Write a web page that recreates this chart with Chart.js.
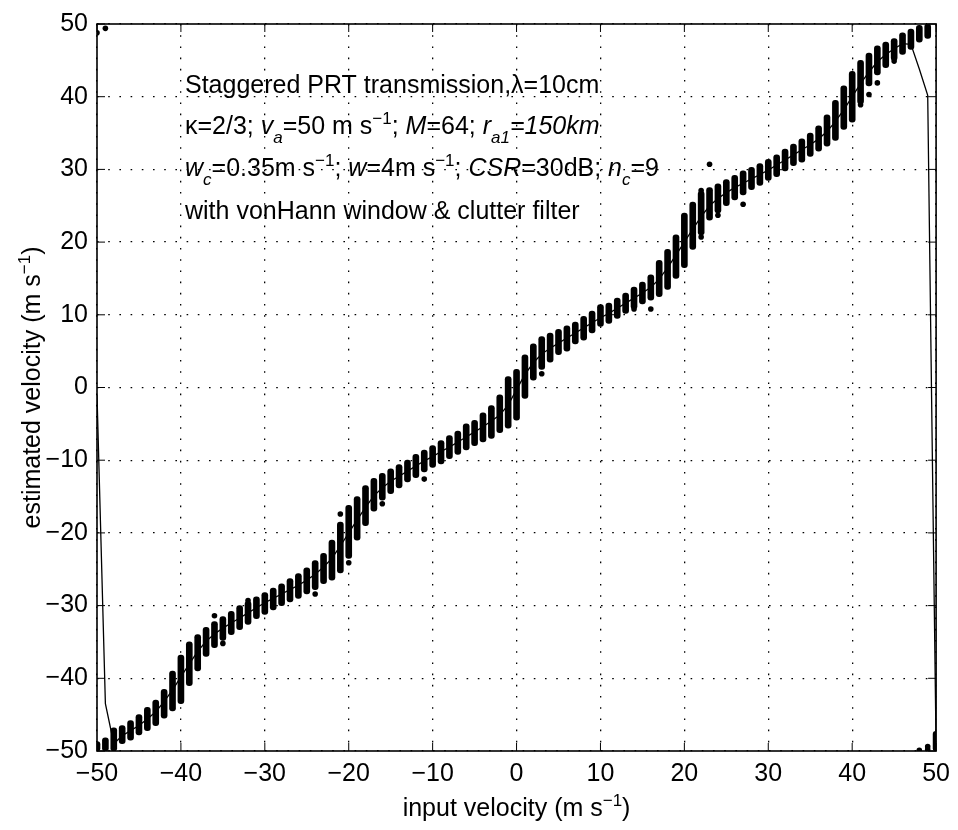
<!DOCTYPE html>
<html>
<head>
<meta charset="utf-8">
<script src="https://cdn.jsdelivr.net/npm/chart.js@4.4.0/dist/chart.umd.min.js"></script>
<style>
  body { margin: 0; background: #fff; }
  canvas { display: block; }
</style>
</head>
<body>
<canvas id="velChart" width="958" height="830"></canvas>
<script>
// input velocities (m/s), one column of estimates per value
const inputVel = [-50, -49, -48, -47, -46, -45, -44, -43, -42, -41, -40, -39, -38, -37, -36, -35, -34, -33, -32, -31,
  -30, -29, -28, -27, -26, -25, -24, -23, -22, -21, -20, -19, -18, -17, -16, -15, -14, -13, -12, -11,
  -10, -9, -8, -7, -6, -5, -4, -3, -2, -1, 0, 1, 2, 3, 4, 5, 6, 7, 8, 9,
  10, 11, 12, 13, 14, 15, 16, 17, 18, 19, 20, 21, 22, 23, 24, 25, 26, 27, 28, 29,
  30, 31, 32, 33, 34, 35, 36, 37, 38, 39, 40, 41, 42, 43, 44, 45, 46, 47, 48, 49, 50];

// mean estimated velocity (solid line)
const meanVel = [-1.0, -43.5, -49.0, -47.9, -47.2, -46.5, -45.6, -44.6, -43.2, -41.6, -39.8, -38.0, -36.3, -34.9, -33.9, -33.1, -32.4, -31.7, -31.0, -30.3,
  -29.6, -29.0, -28.4, -27.8, -27.2, -26.5, -25.7, -24.7, -23.5, -21.8, -20.0, -18.2, -16.5, -14.9, -13.8, -12.9, -12.2, -11.5, -10.8, -10.1,
  -9.5, -8.8, -8.2, -7.5, -6.8, -6.1, -5.4, -4.6, -3.8, -2.4, -0.3, 1.8, 3.4, 4.6, 5.4, 6.1, 6.8, 7.5, 8.2, 8.9,
  9.6, 10.2, 10.9, 11.6, 12.3, 13.0, 13.8, 14.9, 16.5, 18.2, 20.0, 21.8, 23.5, 25.0, 26.0, 26.8, 27.5, 28.1, 28.7, 29.3,
  29.9, 30.6, 31.3, 32.0, 32.7, 33.4, 34.2, 35.2, 36.6, 38.2, 40.0, 41.8, 43.4, 44.8, 45.8, 46.6, 47.3, 47.2, 43.8, 40.2, -49.5];

// lowest and highest estimate in each column of dots
const clusterLow = [-50.0, -50.0, -50.0, -49.0, -48.5, -47.8, -47.2, -46.5, -45.5, -44.5, -43.5, -41.0, -39.0, -37.0, -35.8, -34.8, -34.0, -33.3, -32.6, -31.8,
  -31.2, -30.6, -30.0, -29.5, -29.0, -28.4, -27.8, -27.0, -26.5, -25.5, -23.5, -21.0, -19.0, -17.0, -15.5, -14.6, -13.8, -13.0, -12.4, -11.6,
  -11.0, -10.5, -9.8, -9.2, -8.6, -8.0, -7.5, -7.0, -6.2, -5.6, -4.5, -1.5, 1.0, 2.5, 3.5, 4.5, 5.0, 6.0, 6.5, 7.5,
  8.4, 8.8, 9.5, 10.2, 10.8, 11.5, 12.0, 12.5, 13.5, 15.0, 16.5, 19.0, 21.0, 23.0, 24.0, 25.0, 25.8, 26.5, 27.2, 27.8,
  28.5, 29.0, 29.8, 30.5, 31.0, 31.8, 32.5, 33.2, 34.0, 35.5, 36.5, 39.0, 41.5, 43.0, 44.0, 45.0, 45.8, 46.5, 47.5, 48.0, -50.0];
const clusterHigh = [-48.7, -48.2, -46.8, -46.5, -45.8, -45.0, -44.0, -43.0, -41.5, -39.0, -36.8, -35.0, -34.0, -33.0, -32.2, -31.5, -30.8, -30.0, -29.4, -28.8,
  -28.2, -27.6, -27.0, -26.3, -25.6, -24.8, -23.8, -22.8, -21.0, -18.5, -16.2, -15.0, -13.5, -12.5, -11.8, -11.2, -10.6, -10.0, -9.2, -8.6,
  -8.0, -7.3, -6.6, -6.0, -5.0, -4.5, -3.5, -2.5, -1.0, 1.5, 2.5, 4.5, 6.0, 7.0, 7.5, 8.0, 8.5, 9.0, 9.8, 10.5,
  11.4, 11.6, 12.3, 13.0, 13.8, 14.5, 15.5, 17.5, 19.0, 21.0, 24.0, 25.5, 27.0, 27.5, 28.0, 28.6, 29.2, 29.8, 30.3, 30.8,
  31.4, 32.0, 32.8, 33.5, 34.2, 35.0, 36.0, 37.5, 39.5, 41.5, 43.5, 45.0, 46.0, 47.0, 47.5, 48.0, 48.8, 49.3, 49.8, 50.0, -47.3];

// isolated estimates away from the columns
const outlierX = [-50, -49, -36, -35, -32, -24, -21, -20, -16, -11, 3, 14, 16, 22, 22, 23, 24, 27, 41, 42, 43, 45, 48, 49, 49];
const outlierY = [48.8, 49.4, -31.4, -35.2, -29.3, -28.4, -17.4, -24.1, -16.0, -12.6, 1.9, 10.8, 10.8, 20.7, 27.1, 30.7, 23.7, 25.2, 38.9, 40.3, 41.9, 44.9, -49.9, -49.4, -49.8];

const tickVals = [-50, -40, -30, -20, -10, 0, 10, 20, 30, 40, 50];

const FONT = '"Liberation Sans", Arial, Helvetica, sans-serif';
const FS = 25;

// draws a run of text pieces with italics / sub / superscripts, returns width
function richText(ctx, segs, x, y, size, draw) {
  let cx = x;
  segs.forEach(s => {
    const small = s.sub || s.sup;
    const fs = small ? size * 0.68 : size;
    ctx.font = (s.it ? 'italic ' : '') + fs + 'px ' + FONT;
    const dy = s.sub ? size * 0.36 : (s.sup ? -size * 0.42 : 0);
    if (draw) ctx.fillText(s.t, cx, y + dy);
    cx += ctx.measureText(s.t).width;
  });
  return cx - x;
}

const noteLines = [
  [{t: 'Staggered PRT transmission,\u03bb=10cm'}],
  [{t: '\u03ba=2/3; '}, {t: 'v', it: 1}, {t: 'a', it: 1, sub: 1}, {t: '=50 m s'}, {t: '\u22121', sup: 1}, {t: '; '},
   {t: 'M', it: 1}, {t: '=64; '}, {t: 'r', it: 1}, {t: 'a1', it: 1, sub: 1}, {t: '=150km', it: 1}],
  [{t: 'w', it: 1}, {t: 'c', it: 1, sub: 1}, {t: '=0.35m s'}, {t: '\u22121', sup: 1}, {t: '; '}, {t: 'w', it: 1},
   {t: '=4m s'}, {t: '\u22121', sup: 1}, {t: '; '}, {t: 'CSR', it: 1}, {t: '=30dB; '}, {t: 'n', it: 1}, {t: 'c', it: 1, sub: 1}, {t: '=9'}],
  [{t: 'with vonHann window & clutter filter'}]
];
const xTitle = [{t: 'input velocity (m s'}, {t: '\u22121', sup: 1}, {t: ')'}];
const yTitle = [{t: 'estimated velocity (m s'}, {t: '\u22121', sup: 1}, {t: ')'}];

// frame, inward ticks, note text and axis titles
const decorations = {
  id: 'decorations',
  afterDatasetsDraw(chart) {
    const ctx = chart.ctx;
    const a = chart.chartArea;
    const xs = chart.scales.x, ys = chart.scales.y;
    ctx.save();
    ctx.strokeStyle = '#000';
    ctx.fillStyle = '#000';
    ctx.lineWidth = 1;
    ctx.beginPath();
    tickVals.forEach(v => {
      const px = xs.getPixelForValue(v);
      ctx.moveTo(px, a.bottom); ctx.lineTo(px, a.bottom - 8);
      ctx.moveTo(px, a.top); ctx.lineTo(px, a.top + 8);
      const py = ys.getPixelForValue(v);
      ctx.moveTo(a.left, py); ctx.lineTo(a.left + 8, py);
      ctx.moveTo(a.right, py); ctx.lineTo(a.right - 8, py);
    });
    ctx.stroke();
    ctx.lineWidth = 1.6;
    ctx.strokeRect(a.left, a.top, a.right - a.left, a.bottom - a.top);

    ctx.textBaseline = 'alphabetic';
    ctx.textAlign = 'left';
    const baselines = [93, 134, 176, 219];
    noteLines.forEach((segs, i) => richText(ctx, segs, 185, baselines[i], FS, true));

    const wx = richText(ctx, xTitle, 0, 0, FS, false);
    richText(ctx, xTitle, (a.left + a.right) / 2 - wx / 2, 816, FS, true);

    const wy = richText(ctx, yTitle, 0, 0, FS, false);
    ctx.translate(40, (a.top + a.bottom) / 2);
    ctx.rotate(-Math.PI / 2);
    richText(ctx, yTitle, -wy / 2, 0, FS, true);
    ctx.restore();
  }
};

const gridStyle = {
  color: '#000',
  lineWidth: 1.3,
  drawTicks: false,
  offset: false
};

const velCtx = document.getElementById('velChart').getContext('2d');
const velChart = new Chart(velCtx, {
  type: 'bar',
  data: {
    datasets: [
      {
        type: 'line',
        data: inputVel.map((x, i) => ({x: x, y: meanVel[i]})),
        borderColor: '#000',
        borderWidth: 1.3,
        pointRadius: 0,
        tension: 0,
        order: 0
      },
      {
        type: 'scatter',
        data: outlierX.map((x, i) => ({x: x, y: outlierY[i]})),
        backgroundColor: '#000',
        borderWidth: 0,
        pointRadius: 2.8,
        order: 1
      },
      {
        type: 'bar',
        data: inputVel.map((x, i) => ({x: x, y: [clusterLow[i], clusterHigh[i]]})),
        backgroundColor: '#000',
        barThickness: 6,
        borderRadius: 3,
        borderSkipped: false,
        grouped: false,
        order: 2
      }
    ]
  },
  options: {
    responsive: false,
    animation: false,
    layout: {padding: {left: 0, top: 21, right: 18, bottom: 0}},
    plugins: {
      legend: {display: false},
      tooltip: {enabled: false}
    },
    scales: {
      x: {
        type: 'linear',
        min: -50,
        max: 50,
        offset: false,
        afterBuildTicks: s => { s.ticks = tickVals.map(v => ({value: v})); },
        afterFit: s => { s.height = 79; },
        ticks: {
          color: '#000',
          padding: 8,
          maxRotation: 0,
          font: {family: FONT, size: FS},
          callback: v => v < 0 ? '\u2212' + (-v) : String(v)
        },
        grid: Object.assign({}, gridStyle),
        border: {display: false, dash: [1.6, 9.6]}
      },
      y: {
        type: 'linear',
        min: -50,
        max: 50,
        afterBuildTicks: s => { s.ticks = tickVals.map(v => ({value: v})); },
        afterFit: s => { s.width = 97; },
        ticks: {
          color: '#000',
          padding: 9,
          font: {family: FONT, size: FS},
          callback: v => v < 0 ? '\u2212' + (-v) : String(v)
        },
        grid: Object.assign({}, gridStyle),
        border: {display: false, dash: [1.6, 9.6]}
      }
    }
  },
  plugins: [decorations]
});
</script>
</body>
</html>
